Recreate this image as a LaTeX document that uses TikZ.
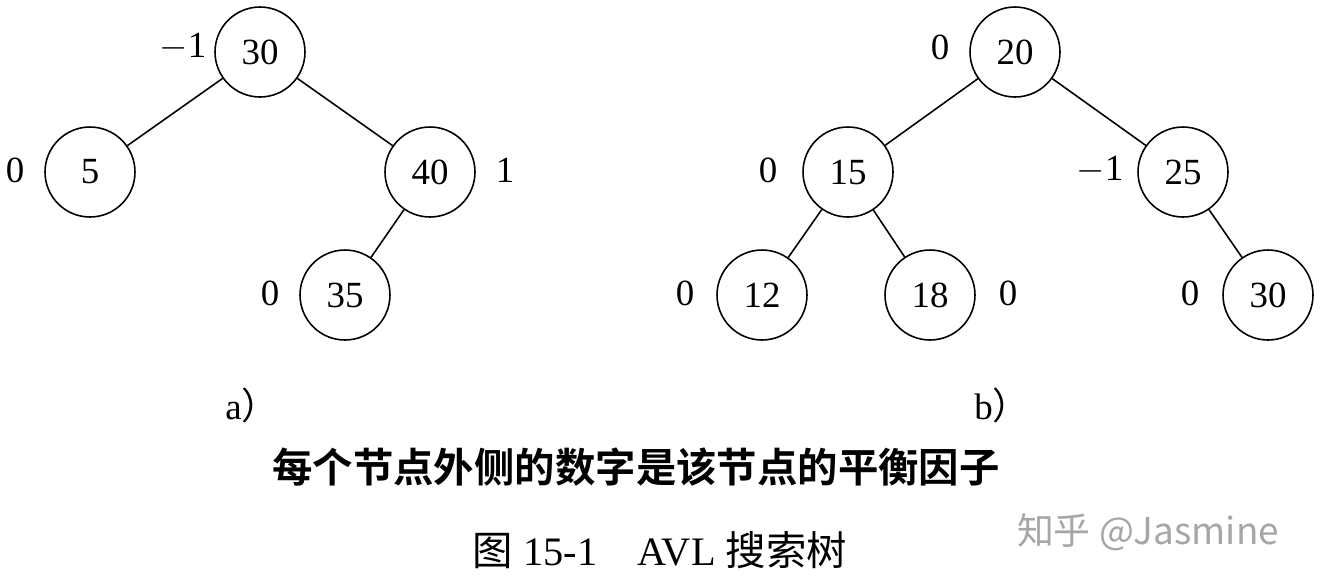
\documentclass[tikz,border=0pt]{standalone}
\usepackage{fontspec}
\setmainfont{Liberation Serif}
\newfontfamily\cjk{Noto Sans CJK SC}
\newfontfamily\cjkbold{Noto Sans CJK SC Bold}
\newfontfamily\wmark{Noto Sans CJK SC}

\begin{document}
\begin{tikzpicture}[x=0.02cm, y=-0.02cm, every node/.style={font=\fontsize{21}{24}\selectfont},
  avl/.style={circle, draw=black, line width=0.9pt, minimum size=1.8cm, inner sep=0pt},
  bf/.style={inner sep=0pt}]
                \useasboundingbox (0,0) rectangle (1322,586);
                % tree a)
                \node[avl] (a30) at (260,52) {30};
                \node[avl] (a5) at (90,172) {5};
                \node[avl] (a40) at (430,172) {40};
                \node[avl] (a35) at (345,295) {35};
                \draw[line width=0.9pt] (a30) -- (a5) (a30) -- (a40) (a40) -- (a35);
                \node[bf] (fa30) at (183,47) {$-$1};
                \node[bf] (fa5) at (15,170) {0};
                \node[bf] (fa40) at (505,170) {1};
                \node[bf] (fa35) at (270,293) {0};
                % tree b)
                \node[avl] (b20) at (1015,52) {20};
                \node[avl] (b15) at (848,172) {15};
                \node[avl] (b25) at (1183,172) {25};
                \node[avl] (b12) at (762,295) {12};
                \node[avl] (b18) at (930,295) {18};
                \node[avl] (b30) at (1268,295) {30};
                \draw[line width=0.9pt] (b20) -- (b15) (b20) -- (b25) (b15) -- (b12)
                (b15) -- (b18) (b25) -- (b30);
                \node[bf] (fb20) at (940,47) {0};
                \node[bf] (fb15) at (768,170) {0};
                \node[bf] (fb25) at (1100,170) {$-$1};
                \node[bf] (fb12) at (685,293) {0};
                \node[bf] (fb18) at (1008,293) {0};
                \node[bf] (fb30) at (1190,293) {0};
                % captions
                \node (capa) at (252,405) {a\cjk{）}};
                \node (capb) at (1002,405) {b\cjk{）}};
                \node[font=\fontsize{23}{26}\selectfont] (note) at (636,467) {\cjkbold 每个节点外侧的数字是该节点的平衡因子};
                \node[font=\fontsize{23}{26}\selectfont] (title) at (660,550) {{\cjk 图} 15-1\quad AVL {\cjk 搜索树}};
                \node[font=\wmark\fontsize{21}{24}\selectfont, text=black!35] (mark) at (1148,532) {知乎 @Jasmine};
\end{tikzpicture}
\end{document}
